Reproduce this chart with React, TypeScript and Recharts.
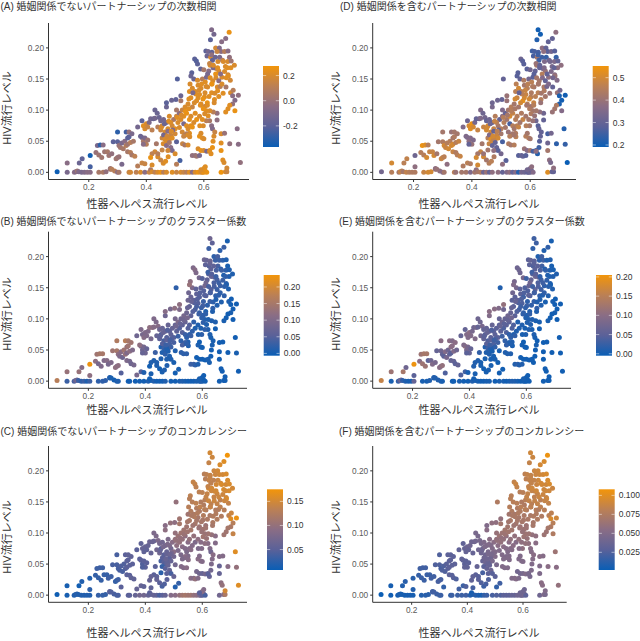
import React from 'react';
import { ScatterChart, Scatter, XAxis, YAxis } from 'recharts';

// one row per community, same order in every array
const herpesLevel = [
  .09, .125, .15, .155, .16, .165, .175, .185, .195, .205,
  .235, .25, .26, .275, .29, .30, .305, .34, .345, .365,
  .38, .395, .41, .415, .42, .43, .44, .45, .46, .47,
  .49, .505, .52, .53, .54, .55, .56, .57, .58, .59,
  .595, .60, .605, .61, .66, .675, .68, .60, .605, .59,
  .125, .167, .177, .205, .205, .225, .235, .23, .24, .25,
  .255, .245, .265, .27, .28, .285, .30, .30, .295, .305,
  .275, .28, .315, .30, .305, .31, .315, .32, .325, .33,
  .33, .335, .335, .34, .34, .345, .35, .355, .335, .345,
  .35, .36, .37, .385, .37, .385, .39, .395, .40, .41,
  .415, .425, .43, .405, .42, .385, .39, .395, .40, .405,
  .39, .38, .44, .45, .435, .43, .42, .415, .395, .42,
  .43, .438, .445, .45, .47, .47, .488, .503, .52, .508,
  .455, .46, .465, .47, .475, .48, .485, .49, .495, .50,
  .455, .46, .465, .47, .475, .48, .485, .49, .50, .505,
  .51, .515, .52, .525, .53, .535, .54, .545, .55, .505,
  .515, .525, .53, .54, .545, .55, .555, .56, .535, .52,
  .459, .467, .476, .517, .505, .526, .534, .545, .505, .551,
  .459, .455, .47, .475, .44, .45, .44, .485, .555, .56,
  .555, .558, .56, .565, .57, .575, .58, .585, .59, .595,
  .568, .574, .578, .589, .55, .555, .58, .59, .60, .605,
  .602, .612, .613, .617, .627, .631, .637, .643, .647, .652,
  .603, .609, .622, .628, .632, .638, .641, .648, .649, .657,
  .663, .667, .672, .677, .683, .684, .693, .694, .702, .706,
  .627, .635, .623, .688, .676, .662, .607, .615, .628, .641,
  .654, .66, .646, .672, .684, .611, .624, .627, .689, .695,
  .655, .665, .675, .685, .64, .63, .62, .70, .708, .70,
  .72, .716, .69, .72, .727, .666, .67, .68, .69, .708,
  .684, .676, .646, .646, .633, .621, .609, .603, .615, .62,
  .627, .609, .598, .586, .575, .565, .57, .585, .595, .63,
  .62, .625, .63, .632, .635, .638, .66, .672, .66, .66,
  .56, .57, .575, .585, .58, .59, .585, .59, .595, .60,
  .60, .61, .62, .54, .53, .545, .49, .50, .475, .48,
  .452, .463, .478, .492, .508, .522, .536, .548, .472, .487,
  .572, .583, .597, .608, .618, .628, .642, .652, .663, .678,
  .592, .604, .613, .622, .633, .648, .658, .668, .682, .692,
  .548, .562, .552, .567, .578, .588, .598, .612, .636, .652,
];

const hivLevel = [
  .001, 0, 0, .001, .002, .001, 0, 0, 0, 0,
  0, 0, .001, .005, .002, 0, 0, 0, 0, 0,
  0, 0, 0, .004, .001, 0, 0, 0, 0, 0,
  0, 0, 0, 0, 0, 0, 0, 0, 0, 0,
  0, 0, .002, 0, 0, .001, .001, .006, .009, .004,
  .015, .015, .022, .027, .009, .032, .028, .043, .044, .044,
  .033, .024, .033, .027, .03, .049, .049, .024, .022, .025,
  .006, .005, .013, .065, .043, .04, .047, .038, .05, .043,
  .065, .055, .045, .057, .065, .048, .062, .05, .033, .032,
  .028, .026, .01, .015, .073, .083, .075, .07, .078, .08,
  .086, .086, .087, .073, .068, .056, .05, .055, .045, .052,
  .045, .058, .073, .068, .046, .033, .03, .024, .014, .012,
  .10, .095, .088, .083, .105, .112, .116, .117, .123, .15,
  .075, .085, .065, .08, .07, .09, .06, .075, .085, .07,
  .055, .06, .053, .05, .066, .053, .08, .055, .062, .09,
  .08, .095, .085, .10, .09, .105, .095, .11, .085, .10,
  .072, .065, .078, .075, .07, .063, .075, .073, .06, .115,
  .0145, .018, .025, .019, .013, .046, .044, .044, .049, .057,
  .046, .036, .043, .052, .025, .02, .03, .04, .09, .105,
  .12, .16, .135, .15, .13, .115, .14, .125, .11, .15,
  .182, .179, .174, .166, .13, .155, .12, .135, .165, .145,
  .121, .112, .137, .163, .128, .147, .117, .167, .137, .163,
  .106, .153, .172, .142, .168, .127, .158, .131, .178, .138,
  .153, .127, .162, .137, .178, .157, .128, .168, .132, .172,
  .229, .222, .213, .225, .215, .21, .195, .194, .193, .20,
  .20, .194, .194, .194, .195, .187, .185, .189, .185, .179,
  .185, .18, .17, .155, .185, .18, .175, .123, .116, .11,
  .124, .07, .046, .045, .016, .02, .016, .007, .108, .099,
  .102, .097, .084, .095, .097, .099, .099, .094, .091, .083,
  .075, .083, .075, .075, .085, .08, .095, .09, .085, .07,
  .035, .03, .04, .05, .058, .065, .062, .063, .047, .035,
  .027, .027, .026, .027, .038, .035, .058, .063, .055, .054,
  .035, .034, .034, .062, .058, .06, .035, .03, .035, .048,
  .072, .078, .082, .068, .088, .092, .098, .102, .058, .066,
  .126, .132, .118, .138, .122, .142, .152, .147, .142, .152,
  .142, .128, .158, .152, .172, .168, .158, .178, .168, .148,
  .118, .128, .142, .112, .148, .108, .102, .108, .112, .122,
];

const degreeNonMarital = [
  -.36, -.1, -.05, -.08, .02, -.08, -.1, -.08, -.05, -.05,
  .05, .06, -.02, .02, .1, -.05, .05, .15, .18, .12,
  .2, -.05, .15, .05, .2, .12, .2, .25, .1, .2,
  .22, .15, .2, .15, .1, .22, -.05, .2, .25, .2,
  .2, .25, .22, .25, .27, .2, .15, .25, .22, .2,
  -.05, -.15, -.18, -.35, -.25, 0, .02, -.1, -.3, -.05,
  .02, .03, .05, .02, -.02, -.2, -.2, -.02, .02, 0,
  .02, .1, -.1, -.3, 0, .03, -.1, .05, -.05, .1,
  -.25, -.2, .02, -.2, 0, .1, -.1, .05, .05, .1,
  .05, .12, .1, .15, -.12, -.2, .22, .2, .2, -.1,
  -.12, -.15, -.12, .15, .12, -.1, .05, -.1, .1, .02,
  -.05, -.15, .1, .15, .05, .18, .12, .25, .15, .2,
  -.15, -.15, -.15, -.12, -.15, -.2, -.15, -.18, -.15, -.22,
  .15, -.12, .2, -.1, .2, .2, .15, .18, .05, .22,
  .15, -.12, .2, .2, -.05, .22, .2, .22, .18, .15,
  .2, -.05, .2, .15, .22, .2, .25, .2, .25, .05,
  .2, .18, -.1, .22, .2, .22, .22, .25, .1, .05,
  .2, .22, .22, -.25, .1, .15, .05, .2, -.2, .2,
  .2, .15, -.05, .2, .2, .15, .1, -.05, .2, .15,
  .22, -.2, .2, -.15, .2, .22, .2, .22, .2, .1,
  -.2, -.22, -.2, -.18, .22, -.15, .22, .2, .05, .22,
  .22, .25, .2, -.05, .22, .2, .22, .1, .2, .2,
  .15, -.1, .2, .22, -.1, .2, .25, .22, .2, .1,
  .2, .22, .2, .05, .2, .18, .2, .22, .1, .2,
  -.08, -.12, -.2, .25, -.05, -.05, -.2, -.12, -.18, .18,
  -.08, -.05, .15, .1, -.05, -.15, .2, -.02, -.02, .02,
  -.1, .1, .2, .22, -.15, -.18, .15, -.05, -.08, -.02,
  -.03, -.05, -.02, -.05, -.02, .22, .2, .18, .22, .25,
  .22, .22, -.03, -.02, .1, .2, .22, .2, .22, .05,
  -.05, .1, .2, .22, .25, .2, .22, .2, .22, -.08,
  .22, .22, .25, .22, .2, .15, .2, 0, .22, .25,
  -.02, -.02, .02, -.1, .2, .25, .25, .2, .22, .2,
  .2, -.1, .22, .1, .15, .2, -.1, .2, .18, .05,
  .2, -.15, .22, -.08, .22, .2, .25, .22, .18, .2,
  .22, .2, .25, .2, .22, .25, .2, -.05, .2, .22,
  .22, .2, -.1, .22, .2, .22, -.05, .2, .22, .18,
  .22, -.1, .2, .2, .2, .22, .25, .22, .2, .22,
];

const degreeMarital = [
  .33, .45, .42, .48, .46, .42, .47, .45, .44, .44,
  .48, .5, .5, .4, .38, .36, .42, .46, .4, .42,
  .42, .35, .42, .38, .42, .44, .32, .4, .3, .38,
  .38, .3, .35, .38, .3, .36, .22, .33, .32, .3,
  .3, .32, .3, .36, .52, .3, .3, .34, .38, .33,
  .5, .46, .47, .32, .38, .45, .45, .54, .52, .45,
  .48, .5, .48, .5, .42, .42, .44, .46, .48, .46,
  .38, .4, .38, .42, .5, .48, .45, .5, .45, .5,
  .4, .42, .5, .44, .42, .45, .42, .48, .48, .44,
  .45, .48, .44, .46, .35, .32, .5, .52, .54, .33,
  .3, .32, .35, .5, .48, .35, .38, .36, .4, .35,
  .3, .35, .48, .5, .42, .48, .42, .5, .44, .5,
  .35, .32, .33, .3, .34, .32, .32, .3, .4, .3,
  .5, .32, .5, .3, .48, .45, .48, .42, .3, .45,
  .45, .35, .52, .5, .3, .5, .45, .5, .42, .38,
  .45, .3, .42, .42, .5, .45, .48, .42, .45, .35,
  .42, .4, .26, .45, .42, .44, .45, .48, .35, .4,
  .45, .46, .44, .28, .38, .44, .42, .45, .26, .46,
  .48, .42, .3, .47, .5, .42, .4, .3, .45, .42,
  .48, .28, .5, .3, .46, .53, .42, .48, .45, .33,
  .32, .28, .28, .28, .46, .28, .5, .45, .32, .46,
  .45, .48, .42, .3, .46, .42, .45, .33, .43, .4,
  .4, .28, .42, .45, .3, .42, .45, .44, .35, .33,
  .38, .4, .35, .3, .35, .37, .4, .38, .33, .38,
  .2, .2, .22, .38, .3, .3, .25, .26, .26, .38,
  .3, .28, .38, .33, .28, .26, .42, .25, .24, .3,
  .24, .32, .34, .4, .25, .25, .4, .21, .2, .21,
  .2, .22, .23, .24, .19, .38, .34, .38, .44, .36,
  .42, .4, .3, .32, .38, .42, .42, .44, .4, .32,
  .28, .4, .42, .45, .48, .42, .44, .42, .42, .3,
  .24, .22, .25, .28, .3, .3, .26, .33, .32, .42,
  .28, .3, .3, .28, .4, .36, .45, .42, .45, .42,
  .42, .26, .38, .42, .45, .42, .28, .33, .38, .3,
  .5, .32, .48, .3, .45, .42, .45, .43, .5, .46,
  .46, .48, .5, .44, .46, .42, .36, .3, .35, .33,
  .46, .44, .28, .42, .3, .35, .3, .33, .3, .36,
  .5, .3, .46, .5, .44, .42, .44, .45, .4, .42,
];

const clusterNonMarital = [
  .17, .03, .04, .07, .09, .03, .02, .03, .01, .03,
  .02, .02, .02, .01, 0, .01, .01, 0, 0, 0,
  0, 0, .01, 0, 0, .01, 0, 0, 0, .01,
  0, 0, .005, .01, .005, 0, 0, 0, .005, .005,
  .005, .01, 0, 0, 0, 0, 0, 0, 0, .005,
  .13, .13, .11, .23, .12, .12, .09, .14, .15, .15,
  .1, .1, .11, .09, .1, .14, .15, .1, .12, .12,
  .01, .005, .05, .16, .12, .1, .11, .08, .14, .13,
  .17, .13, .1, .14, .15, .12, .14, .1, .1, .09,
  .08, .09, .09, .05, .08, .1, .09, .11, .1, .1,
  .12, .12, .11, .1, .09, .09, .08, .09, .08, .07,
  .07, .12, .07, .06, .03, .01, .01, 0, .01, .005,
  .1, .1, .11, .08, .08, .11, .09, .12, .12, .02,
  .05, .07, .04, .07, .05, .07, .04, .06, .07, .05,
  .01, .05, .03, .02, .06, .02, .06, .03, .04, .07,
  .06, .1, .05, .08, .06, .09, .07, .08, .05, .09,
  .03, .02, .05, .03, .02, .01, .02, .03, .02, .1,
  .005, .01, .01, .005, 0, .02, .02, .02, .01, .01,
  .01, .01, .02, .01, .01, 0, .01, .01, .05, .06,
  .06, .12, .07, .1, .06, .04, .06, .05, .02, .06,
  .1, .11, .1, .09, .08, .13, .04, .05, .05, .05,
  .04, .01, .05, .06, .03, .05, .02, .05, .02, .04,
  .02, .09, .05, .04, .07, .02, .04, .01, .04, .02,
  .03, .01, .03, .02, .02, .02, .01, .01, 0, .01,
  .08, .06, .03, .005, .03, .02, .08, .07, .08, .02,
  .04, .03, .03, .02, .01, .06, .05, .07, .005, .01,
  .04, .02, .01, .01, .06, .06, .03, 0, 0, .005,
  0, 0, 0, .005, 0, 0, 0, 0, 0, 0,
  0, .005, 0, .01, .01, .01, .01, .02, .01, .01,
  .01, .02, .02, .01, .01, .02, .02, .01, .01, .005,
  0, .005, 0, 0, .005, .005, 0, 0, 0, 0,
  .03, .03, .02, .01, 0, 0, .01, 0, .005, 0,
  0, 0, .005, .03, .04, .02, .01, .005, .01, .01,
  .06, .07, .05, .05, .08, .07, .08, .09, .03, .04,
  .05, .05, .03, .05, .02, .04, .04, .03, .02, .02,
  .05, .03, .08, .04, .05, .03, .03, .03, .02, .01,
  .07, .07, .08, .05, .06, .03, .02, .02, .01, .01,
];

const clusterMarital = [
  .16, .005, .02, .05, .07, .02, .01, .005, .005, .06,
  .005, .005, .01, .01, .01, .01, .005, 0, 0, .005,
  0, 0, .01, 0, .005, .005, 0, 0, .005, .005,
  0, .005, .005, 0, .005, .01, .01, .005, 0, 0,
  .005, 0, .005, 0, 0, 0, 0, 0, 0, .005,
  .12, .13, .07, .2, .05, .1, .12, .12, .13, .13,
  .05, .12, .07, .09, .08, .06, .07, .09, .1, .11,
  .01, .01, .04, .1, .06, .05, .09, .08, .07, .06,
  .1, .1, .05, .1, .09, .09, .1, .07, .06, .06,
  .05, .06, .04, .03, .06, .06, .09, .09, .1, .08,
  .07, .08, .06, .09, .09, .11, .08, .08, .06, .06,
  .05, .09, .07, .06, .02, .01, .01, .01, .005, .005,
  .07, .07, .08, .06, .09, .1, .1, .09, .11, .01,
  .05, .06, .04, .06, .05, .06, .04, .05, .05, .05,
  .01, .05, .03, .02, .05, .02, .05, .02, .03, .05,
  .05, .07, .04, .06, .05, .07, .05, .06, .04, .06,
  .03, .02, .04, .02, .02, .01, .01, .02, .02, .07,
  .005, .005, .005, 0, 0, .01, .01, .01, .005, .005,
  .01, .005, .01, .01, .005, 0, .005, .005, .04, .05,
  .05, .08, .05, .08, .05, .03, .05, .04, .02, .04,
  .07, .07, .07, .08, .05, .09, .03, .03, .03, .04,
  .03, .01, .04, .06, .02, .05, .02, .06, .02, .03,
  .01, .06, .05, .03, .07, .01, .04, .01, .04, .01,
  .02, .005, .02, .01, .01, .01, .005, .01, 0, .01,
  .03, .03, .02, .005, .02, .01, .05, .06, .05, .01,
  .03, .03, .02, .01, .01, .05, .04, .05, .005, .005,
  .03, .01, .01, .005, .05, .05, .03, 0, 0, .005,
  0, 0, 0, 0, 0, 0, 0, 0, 0, 0,
  0, .005, 0, .005, .005, .01, .01, .01, .01, .005,
  .01, .01, .01, .005, .01, .01, .01, .01, .005, .005,
  0, 0, 0, 0, .005, 0, 0, 0, 0, 0,
  .01, .02, .01, .01, 0, 0, .005, 0, 0, 0,
  0, 0, 0, .01, .02, .01, .005, 0, .005, .005,
  .05, .06, .04, .04, .06, .05, .06, .07, .03, .03,
  .04, .04, .02, .05, .02, .03, .04, .03, .02, .015,
  .04, .02, .07, .03, .05, .02, .03, .02, .01, .01,
  .06, .06, .07, .04, .05, .02, .01, .02, .01, .01,
];

const concurrencyNonMarital = [
  .01, .015, .02, .02, .025, .02, .02, .02, .02, .02,
  .03, .03, .03, .04, .04, .04, .04, .05, .05, .06,
  .07, .07, .06, .05, .055, .06, .055, .04, .05, .06,
  .085, .09, .1, .11, .115, .11, .11, .1, .095, .08,
  .07, .05, .06, .04, .07, .085, .12, .09, .085, .05,
  .015, .012, .02, .02, .025, .03, .03, .035, .035, .035,
  .03, .03, .03, .035, .035, .04, .04, .04, .03, .035,
  .05, .045, .05, .04, .04, .04, .045, .04, .045, .045,
  .05, .05, .05, .05, .055, .05, .055, .05, .05, .05,
  .055, .055, .06, .06, .05, .055, .06, .055, .06, .06,
  .065, .065, .065, .055, .06, .05, .045, .05, .05, .05,
  .045, .05, .07, .07, .05, .05, .06, .06, .055, .055,
  .08, .08, .08, .075, .095, .09, .1, .095, .11, .1,
  .05, .07, .05, .07, .06, .08, .05, .07, .09, .09,
  .04, .05, .05, .045, .06, .05, .08, .06, .07, .1,
  .095, .105, .1, .11, .1, .11, .095, .11, .09, .1,
  .08, .08, .09, .085, .08, .08, .085, .09, .075, .115,
  .04, .045, .05, .03, .02, .085, .085, .09, .07, .09,
  .03, .025, .05, .055, .06, .05, .055, .06, .1, .115,
  .12, .135, .125, .13, .12, .115, .125, .115, .11, .125,
  .14, .14, .135, .135, .11, .13, .115, .12, .135, .125,
  .115, .105, .125, .14, .12, .135, .12, .15, .125, .145,
  .11, .13, .15, .13, .145, .125, .14, .125, .15, .125,
  .135, .125, .145, .13, .15, .145, .135, .155, .145, .15,
  .15, .145, .14, .175, .16, .155, .13, .135, .14, .145,
  .15, .15, .145, .15, .155, .13, .14, .14, .155, .155,
  .145, .15, .155, .155, .135, .135, .14, .16, .13, .12,
  .17, .16, .09, .1, .16, .095, .1, .15, .115, .14,
  .11, .11, .085, .09, .1, .11, .105, .11, .105, .09,
  .085, .095, .085, .08, .08, .085, .1, .095, .09, .07,
  .06, .06, .07, .08, .085, .09, .085, .085, .06, .06,
  .09, .085, .1, .085, .075, .07, .09, .085, .09, .085,
  .06, .07, .05, .09, .08, .085, .04, .06, .05, .06,
  .06, .075, .08, .075, .1, .1, .105, .11, .06, .065,
  .125, .125, .115, .13, .12, .14, .145, .14, .135, .145,
  .135, .125, .14, .145, .15, .15, .145, .155, .15, .14,
  .115, .12, .13, .11, .135, .105, .105, .11, .115, .125,
];

const concurrencyMarital = [
  .002, .004, .006, .006, .008, .006, .006, .006, .006, .006,
  .01, .012, .012, .018, .018, .018, .018, .014, .018, .018,
  .018, .02, .012, .006, .008, .012, .008, .006, .015, .018,
  .022, .025, .025, .03, .03, .03, .035, .035, .04, .04,
  .04, .04, .045, .03, .04, .05, .045, .04, .04, .04,
  .006, .01, .012, .012, .01, .016, .018, .02, .02, .02,
  .018, .018, .018, .02, .02, .025, .025, .025, .022, .022,
  .02, .02, .015, .025, .022, .025, .025, .025, .028, .028,
  .03, .03, .03, .03, .03, .03, .03, .03, .03, .028,
  .028, .025, .02, .018, .032, .032, .035, .035, .038, .04,
  .04, .04, .042, .035, .035, .03, .03, .03, .032, .03,
  .032, .032, .04, .04, .035, .03, .032, .032, .025, .022,
  .045, .045, .045, .045, .055, .05, .058, .058, .06, .075,
  .04, .048, .04, .048, .045, .055, .04, .05, .055, .05,
  .035, .04, .04, .038, .045, .04, .05, .045, .05, .06,
  .055, .065, .06, .065, .06, .068, .058, .068, .055, .062,
  .05, .05, .055, .052, .05, .05, .052, .052, .05, .068,
  .018, .022, .025, .02, .015, .05, .05, .05, .045, .05,
  .028, .022, .035, .035, .03, .025, .028, .038, .06, .068,
  .072, .08, .075, .08, .07, .068, .075, .07, .065, .075,
  .085, .088, .085, .08, .068, .08, .07, .075, .08, .075,
  .07, .065, .075, .085, .072, .08, .07, .085, .078, .085,
  .065, .08, .088, .078, .085, .075, .082, .075, .088, .075,
  .08, .075, .088, .08, .09, .085, .08, .09, .082, .088,
  .09, .088, .085, .105, .095, .092, .082, .085, .085, .088,
  .09, .09, .088, .092, .095, .082, .085, .085, .095, .095,
  .09, .092, .09, .09, .085, .085, .085, .095, .08, .075,
  .09, .065, .055, .055, .06, .055, .055, .05, .07, .075,
  .065, .065, .055, .058, .06, .065, .065, .065, .062, .058,
  .055, .06, .058, .052, .052, .055, .06, .06, .058, .052,
  .045, .045, .048, .05, .052, .055, .055, .052, .05, .048,
  .05, .05, .052, .048, .042, .042, .05, .05, .05, .05,
  .045, .05, .045, .048, .05, .05, .028, .03, .03, .035,
  .04, .048, .05, .048, .06, .06, .065, .068, .04, .045,
  .072, .075, .07, .08, .072, .082, .085, .085, .082, .086,
  .08, .072, .085, .085, .09, .09, .088, .092, .09, .085,
  .068, .072, .078, .066, .08, .065, .062, .065, .07, .075,
];

const xTicks = [0.2, 0.4, 0.6];
const yTicks = [0, 0.05, 0.1, 0.15, 0.2];
const xLabel = '性器ヘルペス流行レベル';
const yLabel = 'HIV流行レベル';

const FONT = '"Liberation Sans", "Noto Sans CJK JP", sans-serif';
const RAMP = ['#0a5eb5', '#5a6199', '#8a6d85', '#bb8055', '#f2950a'];

const rampColor = (t: number) => {
  const c = Math.max(0, Math.min(0.9999, t)) * (RAMP.length - 1);
  const i = Math.floor(c);
  const f = c - i;
  const hex = (s: string, k: number) => parseInt(s.slice(1 + k * 2, 3 + k * 2), 16);
  const ch = [0, 1, 2].map(k => Math.round(hex(RAMP[i], k) * (1 - f) + hex(RAMP[i + 1], k) * f));
  return `rgb(${ch[0]},${ch[1]},${ch[2]})`;
};

const panels = [
  {
    title: '(A) 婚姻関係でないパートナーシップの次数相関', titleX: 0.5, titleY: 6, values: degreeNonMarital,
    boxX: 0, left: 48.5, right: 249, top: 23, bottom: 179.5, xLabelX: 147, xLabelY: 204, yLabelX: 6.5, yLabelY: 108,
    barX: 263, barTop: 66, barBottom: 147, range: [-0.368, 0.276], legend: [0.2, 0, -0.2], digits: 1,
  },
  {
    title: '(B) 婚姻関係でないパートナーシップのクラスター係数', titleX: 0.5, titleY: 221, values: clusterNonMarital,
    boxX: 0, left: 48.5, right: 247, top: 231.7, bottom: 388.3, xLabelX: 147, xLabelY: 410, yLabelX: 6.5, yLabelY: 314,
    barX: 263.7, barTop: 275, barBottom: 355.7, range: [-0.007, 0.236], legend: [0.2, 0.15, 0.1, 0.05, 0], digits: 2,
  },
  {
    title: '(C) 婚姻関係でないパートナーシップのコンカレンシー', titleX: 0.5, titleY: 431, values: concurrencyNonMarital,
    boxX: 0, left: 48.5, right: 247, top: 446, bottom: 602.3, xLabelX: 147, xLabelY: 633, yLabelX: 6.5, yLabelY: 537,
    barX: 267, barTop: 489.3, barBottom: 570, range: [0.0076, 0.175], legend: [0.15, 0.1, 0.05], digits: 2,
  },
  {
    title: '(D) 婚姻関係を含むパートナーシップの次数相関', titleX: 340, titleY: 6, values: degreeMarital,
    boxX: 320, left: 372.7, right: 576, top: 23, bottom: 179.5, xLabelX: 479, xLabelY: 204, yLabelX: 336, yLabelY: 108,
    barX: 592.7, barTop: 66, barBottom: 147, range: [0.191, 0.552], legend: [0.5, 0.4, 0.3, 0.2], digits: 1,
  },
  {
    title: '(E) 婚姻関係を含むパートナーシップのクラスター係数', titleX: 339, titleY: 221, values: clusterMarital,
    boxX: 320, left: 372.7, right: 571, top: 231.7, bottom: 388.3, xLabelX: 479, xLabelY: 410, yLabelX: 336, yLabelY: 314,
    barX: 596, barTop: 275, barBottom: 355.7, range: [-0.005, 0.205], legend: [0.2, 0.15, 0.1, 0.05, 0], digits: 2,
  },
  {
    title: '(F) 婚姻関係を含むパートナーシップのコンカレンシー', titleX: 339, titleY: 431, values: concurrencyMarital,
    boxX: 320, left: 372.7, right: 566.7, top: 446, bottom: 602.3, xLabelX: 479, xLabelY: 633, yLabelX: 336, yLabelY: 537,
    barX: 598.7, barTop: 489.3, barBottom: 570, range: [0.0017, 0.108], legend: [0.1, 0.075, 0.05, 0.025], digits: 3,
  },
];

const BOX_W = 320;
const BOX_H = 641;
const DOT_R = 2.5;
const AXIS_COLOR = '#333333';
const TEXT_COLOR = '#333333';
const TICK_STYLE = { fill: '#5a5a5a', fontSize: 8.3, fontFamily: FONT };

const Panel: React.FC<{ p: typeof panels[number] }> = ({ p }) => {
  const [lo, hi] = p.range;
  const rows = herpesLevel.map((x, i) => ({ x, y: hivLevel[i], color: rampColor((p.values[i] - lo) / (hi - lo)) }));
  const yAxisW = p.left - p.boxX;
  return (
    <div style={{ position: 'absolute', left: p.boxX, top: 0, width: BOX_W, height: BOX_H }}>
      <ScatterChart
        width={BOX_W}
        height={BOX_H}
        margin={{ top: p.top, right: p.boxX + BOX_W - p.right, bottom: 0, left: 0 }}
      >
        <XAxis
          type="number"
          dataKey="x"
          domain={[0.06, 0.757]}
          ticks={xTicks}
          tickFormatter={(v: number) => v.toFixed(1)}
          height={BOX_H - p.bottom}
          tickSize={2.5}
          tick={TICK_STYLE}
          tickLine={{ stroke: AXIS_COLOR }}
          axisLine={{ stroke: AXIS_COLOR, strokeWidth: 1 }}
        />
        <YAxis
          type="number"
          dataKey="y"
          domain={[-0.0115, 0.24]}
          ticks={yTicks}
          tickFormatter={(v: number) => v.toFixed(2)}
          width={yAxisW}
          tickSize={2.5}
          tick={TICK_STYLE}
          tickLine={{ stroke: AXIS_COLOR }}
          axisLine={{ stroke: AXIS_COLOR, strokeWidth: 1 }}
        />
        <Scatter
          data={rows}
          isAnimationActive={false}
          shape={(d: any) => <circle cx={d.cx} cy={d.cy} r={DOT_R} fill={d.payload.color} />}
        />
      </ScatterChart>
    </div>
  );
};

// titles, axis titles and colour bars sit on one sheet above the six charts
const Overlay = () => (
  <svg width={640} height={641} style={{ position: 'absolute', left: 0, top: 0, fontFamily: FONT }}>
    <defs>
      <linearGradient id="ramp" x1="0" y1="1" x2="0" y2="0">
        {RAMP.map((c, i) => (
          <stop key={c} offset={`${(i / (RAMP.length - 1)) * 100}%`} stopColor={c} />
        ))}
      </linearGradient>
    </defs>
    {panels.map(p => {
      const [lo, hi] = p.range;
      const barH = p.barBottom - p.barTop;
      return (
        <g key={p.title}>
          <text x={p.titleX} y={p.titleY} fontSize={10} fill={TEXT_COLOR} dominantBaseline="central">{p.title}</text>
          <text x={p.xLabelX} y={p.xLabelY} fontSize={11} fill={TEXT_COLOR} textAnchor="middle" dominantBaseline="central">{xLabel}</text>
          <text
            x={p.yLabelX}
            y={p.yLabelY}
            fontSize={11}
            fill={TEXT_COLOR}
            textAnchor="middle"
            dominantBaseline="central"
            transform={`rotate(-90 ${p.yLabelX} ${p.yLabelY})`}
          >
            {yLabel}
          </text>
          <rect x={p.barX} y={p.barTop} width={16} height={barH} fill="url(#ramp)" />
          {p.legend.map(v => {
            const y = p.barBottom - ((v - lo) / (hi - lo)) * barH;
            return (
              <g key={v}>
                <line x1={p.barX} x2={p.barX + 3.2} y1={y} y2={y} stroke="#fff" strokeWidth={0.5} />
                <line x1={p.barX + 12.8} x2={p.barX + 16} y1={y} y2={y} stroke="#fff" strokeWidth={0.5} />
                <text x={p.barX + 20} y={y} fontSize={8.5} fill={TEXT_COLOR} dominantBaseline="central">
                  {v.toFixed(p.digits)}
                </text>
              </g>
            );
          })}
        </g>
      );
    })}
  </svg>
);

export default function App() {
  return (
    <div style={{ position: 'absolute', left: 0, top: 0, width: 640, height: 641, background: '#fff', fontFamily: FONT }}>
      {panels.map(p => <Panel key={p.title} p={p} />)}
      <Overlay />
    </div>
  );
}
